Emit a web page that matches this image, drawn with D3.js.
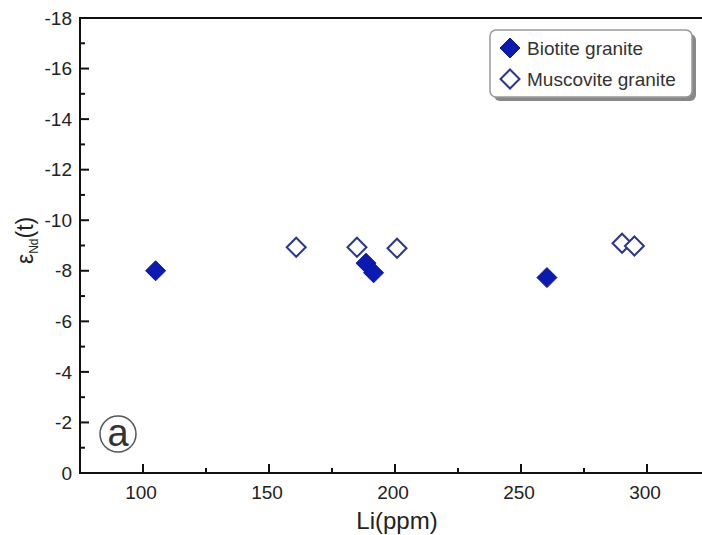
<!DOCTYPE html>
<html>
<head>
<meta charset="utf-8">
<script src="https://cdn.jsdelivr.net/npm/d3@7"></script>
<style>
  body { margin: 0; background: #fff; }
  svg { display: block; font-family: "Liberation Sans", Arial, sans-serif; }
</style>
</head>
<body>
<svg id="chart"></svg>
<script>
// data
const biotiteLi = [105, 188.5, 191.5, 260.3];
const biotiteEps = [-8.0, -8.3, -7.92, -7.73];
const muscoviteLi = [160.8, 184.9, 200.8, 290.1, 295];
const muscoviteEps = [-8.93, -8.93, -8.89, -9.09, -8.98];
const xTicks = [100, 150, 200, 250, 300];
const yTicks = [-18, -16, -14, -12, -10, -8, -6, -4, -2, 0];
const legendLabels = ['Biotite granite', 'Muscovite granite'];

const width = 702, height = 535;
const margins = { top: 18, bottom: 62, left: 80, right: -8 };

const svg = d3.select('#chart').attr('width', width).attr('height', height);

const x = d3.scaleLinear().domain([75, 325]).range([margins.left, width - margins.right]);
const y = d3.scaleLinear().domain([0, -18]).range([height - margins.bottom, margins.top]);

const diamond = r => `M0,${-r}L${r},0L0,${r}L${-r},0Z`;

// frame (top + right edge run off the canvas)
svg.append('rect')
   .attr('x', x(75)).attr('y', y(-18))
   .attr('width', x(325) - x(75)).attr('height', y(0) - y(-18))
   .attr('fill', 'none').attr('stroke', '#111').attr('stroke-width', 2);

// x ticks (inward)
const xMinor = d3.range(75, 326, 25).filter(v => !xTicks.includes(v) && v > 75);
svg.selectAll('.xmaj').data(xTicks).enter().append('line')
   .attr('x1', d => x(d)).attr('x2', d => x(d))
   .attr('y1', y(0)).attr('y2', y(0) - 9)
   .attr('stroke', '#111').attr('stroke-width', 2);
svg.selectAll('.xmin').data(xMinor).enter().append('line')
   .attr('x1', d => x(d)).attr('x2', d => x(d))
   .attr('y1', y(0)).attr('y2', y(0) - 5)
   .attr('stroke', '#111').attr('stroke-width', 2);
svg.selectAll('.xlab').data(xTicks).enter().append('text')
   .attr('x', d => x(d) - 2).attr('y', 499)
   .attr('text-anchor', 'middle')
   .attr('font-size', '19px').attr('fill', '#222')
   .text(d => d);

// y ticks (inward)
const yMinor = d3.range(-17, 0, 2);
svg.selectAll('.ymaj').data(yTicks).enter().append('line')
   .attr('x1', x(75)).attr('x2', x(75) + 9)
   .attr('y1', d => y(d)).attr('y2', d => y(d))
   .attr('stroke', '#111').attr('stroke-width', 2);
svg.selectAll('.ymin').data(yMinor).enter().append('line')
   .attr('x1', x(75)).attr('x2', x(75) + 5)
   .attr('y1', d => y(d)).attr('y2', d => y(d))
   .attr('stroke', '#111').attr('stroke-width', 2);
svg.selectAll('.ylab').data(yTicks).enter().append('text')
   .attr('x', 72).attr('y', d => y(d))
   .attr('dy', '0.35em')
   .attr('text-anchor', 'end')
   .attr('font-size', '19px').attr('fill', '#222')
   .text(d => d);

// axis titles
svg.append('text')
   .attr('x', x(200) + 2).attr('y', 529)
   .attr('text-anchor', 'middle')
   .attr('font-size', '24px').attr('fill', '#222')
   .text('Li(ppm)');

const ylab = svg.append('text')
   .attr('transform', `translate(33,${y(-9.2)}) rotate(-90)`)
   .attr('text-anchor', 'middle')
   .attr('font-size', '23px').attr('fill', '#222');
ylab.append('tspan').text('ε');
ylab.append('tspan').attr('font-size', '12px').attr('dy', 5).text('Nd');
ylab.append('tspan').attr('dy', -5).text('(t)');

// circled label
svg.append('circle')
   .attr('cx', 118).attr('cy', 434).attr('r', 18)
   .attr('fill', 'none').attr('stroke', '#555').attr('stroke-width', 1.5);
svg.append('text')
   .attr('x', 118).attr('y', 446)
   .attr('text-anchor', 'middle')
   .attr('font-size', '38px').attr('fill', '#333')
   .text('a');

// data points
const muscovite = muscoviteLi.map((v, i) => ({ li: v, eps: muscoviteEps[i] }));
const biotite = biotiteLi.map((v, i) => ({ li: v, eps: biotiteEps[i] }));

svg.selectAll('.musc').data(muscovite).enter().append('path')
   .attr('d', diamond(9.5))
   .attr('transform', d => `translate(${x(d.li)},${y(d.eps)})`)
   .attr('fill', '#fff').attr('stroke', '#2a3590').attr('stroke-width', 2);

svg.selectAll('.biot').data(biotite).enter().append('path')
   .attr('d', diamond(10))
   .attr('transform', d => `translate(${x(d.li)},${y(d.eps)})`)
   .attr('fill', '#0b1ab3').attr('stroke', '#101a8a').attr('stroke-width', 1);

// legend
const lg = svg.append('g').attr('transform', 'translate(490,30)');
lg.append('rect')
  .attr('x', 4).attr('y', 4).attr('width', 202).attr('height', 67).attr('rx', 6)
  .attr('fill', '#888');
lg.append('rect')
  .attr('x', 0).attr('y', 0).attr('width', 202).attr('height', 67).attr('rx', 6)
  .attr('fill', '#fff').attr('stroke', '#999').attr('stroke-width', 1.5);

const items = lg.selectAll('.item').data(legendLabels).enter().append('g')
  .attr('transform', (d, i) => `translate(20,${18 + i * 31})`);
items.append('path')
  .attr('d', (d, i) => diamond(i === 0 ? 10 : 9.5))
  .attr('fill', (d, i) => i === 0 ? '#0b1ab3' : '#fff')
  .attr('stroke', (d, i) => i === 0 ? '#101a8a' : '#2a3590')
  .attr('stroke-width', (d, i) => i === 0 ? 1 : 2);
items.append('text')
  .attr('x', 17).attr('y', 7)
  .attr('font-size', '19px').attr('fill', '#333')
  .text(d => d);
</script>
</body>
</html>
